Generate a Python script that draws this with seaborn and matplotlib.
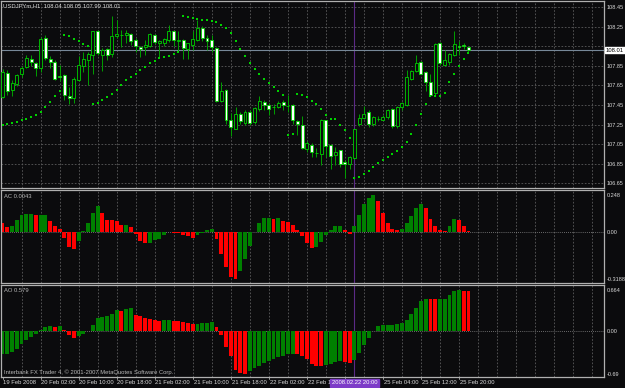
import numpy as np
import matplotlib
matplotlib.use("Agg")
import matplotlib.pyplot as plt
import seaborn as sns

# USDJPYm H1, first bar = 19 Feb 18:00
opens = [107.53, 107.78, 107.60, 107.66, 107.77, 107.84, 107.92, 107.88, 107.83, 108.13,
         107.92, 107.89, 107.75, 107.76, 107.54, 107.52, 107.71, 107.85, 107.91, 107.96,
         108.21, 107.96, 108.02, 107.97, 108.15, 108.16, 108.16, 108.17, 108.11, 108.04,
         108.04, 108.05, 108.16, 108.08, 108.08, 108.11, 108.20, 108.10, 108.11, 108.02,
         108.06, 108.11, 108.24, 108.13, 108.11, 108.03, 107.49, 107.60, 107.30, 107.21,
         107.36, 107.27, 107.38, 107.28, 107.41, 107.48, 107.45, 107.43, 107.43, 107.48,
         107.44, 107.45, 107.29, 107.25, 107.00, 107.04, 106.96, 106.95, 107.30, 107.04,
         106.94, 106.99, 106.87, 106.85, 106.91, 107.26, 107.32, 107.38, 107.26, 107.31,
         107.30, 107.33, 107.41, 107.24, 107.43, 107.45, 107.72, 107.80, 107.89, 107.79,
         107.68, 107.57, 108.08, 107.86, 107.89, 107.96, 108.05, 108.06, 108.04]
highs = [107.82, 107.81, 107.71, 107.77, 107.85, 107.96, 107.96, 107.89, 108.14, 108.16,
         107.95, 107.91, 107.86, 107.77, 107.63, 107.74, 107.95, 107.99, 107.99, 108.21,
         108.22, 108.03, 108.03, 108.36, 108.32, 108.22, 108.22, 108.18, 108.13, 108.05,
         108.11, 108.18, 108.17, 108.11, 108.13, 108.27, 108.21, 108.21, 108.12, 108.08,
         108.21, 108.32, 108.26, 108.16, 108.16, 108.04, 107.68, 107.61, 107.37, 107.43,
         107.38, 107.40, 107.40, 107.43, 107.54, 107.50, 107.47, 107.46, 107.49, 107.50,
         107.55, 107.46, 107.30, 107.34, 107.08, 107.06, 107.01, 107.31, 107.30, 107.05,
         107.02, 106.99, 106.89, 106.93, 107.20, 107.36, 107.44, 107.40, 107.34, 107.34,
         107.35, 107.41, 107.42, 107.44, 107.48, 107.81, 107.81, 107.96, 107.90, 107.80,
         107.77, 108.08, 108.09, 108.01, 107.98, 108.21, 108.10, 108.08, 108.05]
lows = [107.52, 107.55, 107.54, 107.64, 107.74, 107.83, 107.85, 107.75, 107.79, 107.91,
        107.83, 107.71, 107.69, 107.50, 107.46, 107.47, 107.69, 107.79, 107.65, 107.77,
        107.96, 107.80, 107.91, 107.94, 108.13, 108.04, 108.08, 108.06, 107.99, 107.94,
        107.96, 108.04, 108.07, 107.93, 108.05, 108.09, 108.05, 108.00, 107.92, 107.92,
        108.01, 108.10, 108.10, 108.01, 107.99, 107.48, 107.48, 107.26, 107.13, 107.20,
        107.26, 107.25, 107.25, 107.26, 107.39, 107.40, 107.35, 107.36, 107.42, 107.40,
        107.38, 107.26, 107.14, 107.00, 106.97, 106.92, 106.92, 106.84, 106.92, 106.80,
        106.84, 106.82, 106.70, 106.80, 106.90, 107.24, 107.31, 107.23, 107.24, 107.29,
        107.30, 107.31, 107.22, 107.22, 107.40, 107.44, 107.71, 107.79, 107.77, 107.59,
        107.54, 107.55, 107.86, 107.85, 107.86, 107.95, 107.96, 108.02, 107.99]
closes = [107.79, 107.59, 107.67, 107.76, 107.83, 107.93, 107.89, 107.83, 108.12, 107.93,
          107.89, 107.72, 107.74, 107.55, 107.52, 107.72, 107.86, 107.92, 107.97, 108.20,
          107.98, 108.01, 107.96, 108.15, 108.17, 108.16, 108.18, 108.10, 108.05, 108.02,
          108.06, 108.17, 108.09, 108.10, 108.12, 108.21, 108.11, 108.11, 108.03, 108.08,
          108.12, 108.24, 108.13, 108.10, 108.04, 107.49, 107.59, 107.30, 107.23, 107.36,
          107.29, 107.38, 107.27, 107.42, 107.49, 107.45, 107.41, 107.43, 107.47, 107.45,
          107.44, 107.30, 107.26, 107.01, 107.06, 106.97, 106.96, 107.30, 107.03, 106.93,
          106.97, 106.85, 106.85, 106.92, 107.20, 107.32, 107.36, 107.26, 107.33, 107.31,
          107.33, 107.40, 107.24, 107.43, 107.47, 107.74, 107.80, 107.88, 107.77, 107.68,
          107.55, 108.07, 107.88, 107.91, 107.97, 108.07, 108.04, 108.05, 108.01]
# Parabolic SAR
sar = [107.25, 107.26, 107.27, 107.28, 107.30, 107.31, 107.33, 107.35, 107.38, 107.43,
       107.48, 107.54, 107.59, 108.16, 108.15, 108.12, 108.10, 108.07, 108.05, 107.46,
       107.47, 107.50, 107.53, 107.56, 107.60, 107.65, 107.70, 107.74, 107.77, 107.81,
       107.84, 107.88, 107.90, 107.93, 107.94, 107.95, 107.97, 107.99, 108.36, 108.35,
       108.34, 108.33, 108.32, 108.32, 108.31, 108.30, 108.27, 108.24, 108.18, 108.10,
       108.02, 107.95, 107.88, 107.82, 107.77, 107.72, 107.67, 107.63, 107.59, 107.55,
       107.14, 107.15, 107.56, 107.55, 107.53, 107.49, 107.46, 107.41, 107.35, 107.31,
       107.31, 107.25, 107.19, 107.11, 106.71, 106.72, 106.75, 106.78, 106.82, 106.86,
       106.89, 106.92, 106.95, 106.98, 107.02, 107.07, 107.15, 107.25, 107.36, 107.46,
       107.54, 107.54, 107.54, 107.57, 107.68, 107.77, 107.85, 107.92, 107.98]
# Accelerator Oscillator
ac = [0.056, 0.031, 0.038, 0.081, 0.110, 0.119, 0.121, 0.110, 0.111, 0.113,
      0.072, 0.036, 0.016, -0.043, -0.104, -0.115, -0.065, 0.002, 0.061, 0.128,
      0.173, 0.128, 0.081, 0.079, 0.072, 0.043, 0.047, 0.031, -0.018, -0.065,
      -0.076, -0.074, -0.054, -0.047, -0.025, -0.003, -0.006, -0.011, -0.020, -0.031,
      -0.040, -0.025, -0.009, 0.011, 0.020, -0.052, -0.148, -0.238, -0.306, -0.3188,
      -0.268, -0.182, -0.097, 0.001, 0.061, 0.090, 0.093, 0.089, 0.090, 0.070,
      0.065, 0.043, 0.014, -0.030, -0.074, -0.110, -0.103, -0.070, -0.020, 0.009,
      0.038, 0.040, 0.014, -0.016, 0.038, 0.110, 0.189, 0.230, 0.248, 0.205,
      0.124, 0.059, 0.020, 0.014, 0.020, 0.061, 0.104, 0.160, 0.185, 0.160,
      0.088, 0.036, 0.014, 0.002, 0.038, 0.083, 0.077, 0.036, 0.0043]
# Awesome Oscillator
ao = [-0.373, -0.363, -0.336, -0.282, -0.201, -0.137, -0.094, -0.051, 0.018, 0.067,
      0.078, 0.075, 0.083, 0.024, -0.067, -0.105, -0.083, -0.040, -0.003, 0.094,
      0.212, 0.228, 0.239, 0.282, 0.336, 0.320, 0.352, 0.368, 0.266, 0.239,
      0.212, 0.191, 0.175, 0.158, 0.175, 0.185, 0.164, 0.158, 0.148, 0.132,
      0.120, 0.123, 0.125, 0.132, 0.142, 0.067, -0.067, -0.255, -0.406, -0.621,
      -0.675, -0.690, -0.642, -0.599, -0.556, -0.513, -0.481, -0.449, -0.416, -0.395,
      -0.373, -0.363, -0.370, -0.406, -0.443, -0.524, -0.562, -0.567, -0.551, -0.524,
      -0.497, -0.481, -0.497, -0.513, -0.459, -0.352, -0.218, -0.105, -0.003, 0.078,
      0.105, 0.106, 0.107, 0.121, 0.132, 0.185, 0.282, 0.373, 0.481, 0.524,
      0.523, 0.521, 0.522, 0.525, 0.578, 0.642, 0.664, 0.650, 0.645]

# labels every 8 bars; 22 Feb 18:00 sits under the marker box, 22 Feb 10 is cut by it
time_labels = ["19 Feb 2008", "20 Feb 02:00", "20 Feb 10:00", "20 Feb 18:00", "21 Feb 02:00",
               "21 Feb 10:00", "21 Feb 18:00", "22 Feb 02:00", "22 Feb 10", "",
               "25 Feb 04:00", "25 Feb 12:00", "25 Feb 20:00"]
price_ticks = [108.45, 108.25, 108.05, 107.85, 107.65, 107.45, 107.25, 107.05, 106.85, 106.65]
ac_ticks = [0.248, 0.0, -0.3188]
ac_tick_labels = ["0.248", "0.00", "-0.3188"]
ao_ticks = [0.664, 0.0, -0.69]
ao_tick_labels = ["0.664", "0.00", "-0.69"]
marker_bar = 74
marker_label = "2008.02.22 20:00"

bg = "#0b0b0d"
fg = "#d8d8d8"
grid_c = "#5c5c5c"
frame_c = "#b0b0b0"

sns.set_theme(style="dark", rc={"axes.facecolor": bg, "figure.facecolor": bg})
plt.rcParams["font.family"] = ["Liberation Sans", "DejaVu Sans"]

W, H = 625, 388
fig = plt.figure(figsize=(6.25, 3.88), dpi=100)


def box(x0, y0, x1, y1):
    return [x0 / W, 1 - y1 / H, (x1 - x0) / W, (y1 - y0) / H]


def px(x, y):
    return x / W, 1 - y / H


ax = fig.add_axes(box(1, 1, 604, 188))
ax_ac = fig.add_axes(box(1, 190, 604, 283))
ax_ao = fig.add_axes(box(1, 285, 604, 377))

n = len(closes)
idx = np.arange(n)

for a in (ax, ax_ac, ax_ao):
    a.set_facecolor(bg)
    a.set_xlim(-0.32, 126.5)
    a.set_xticks(np.arange(4, 127, 4))
    a.tick_params(axis="x", length=0, labelbottom=False)
    a.tick_params(axis="y", length=0, labelleft=False, labelright=True,
                  labelsize=4, labelcolor=fg, pad=2.2)
    a.grid(False)
    a.grid(axis="x", color=grid_c, linestyle=(0, (2, 2)), linewidth=0.6)
    for s in a.spines.values():
        s.set_color(frame_c)
        s.set_linewidth(0.9)
    a.axvline(marker_bar, color="#5b2a86", linewidth=0.8, zorder=1)

# main chart: candles + SAR
o = np.array(opens)
c = np.array(closes)
bull = c >= o
ax.vlines(idx, lows, highs, color="#00a000", linewidth=0.7, zorder=2)
ax.bar(idx, np.abs(c - o), bottom=np.minimum(o, c), width=0.62,
       color=np.where(bull, bg, "white"), edgecolor="#00d000", linewidth=0.6, zorder=3)
sns.scatterplot(x=idx, y=sar, marker="s", s=3, color="#00d000", linewidth=0, ax=ax, zorder=4)
ax.axhline(closes[-1], color="#778899", linewidth=0.8, zorder=1.5)
ax.set_ylim(106.603, 108.511)
ax.set_yticks(price_ticks)
# 108.05 is hidden behind the current-price box
ax.set_yticklabels(["" if abs(p - 108.05) < 1e-6 else f"{p:.2f}" for p in price_ticks])
ax.grid(axis="y", color=grid_c, linestyle=(0, (2, 2)), linewidth=0.6)
ax.set_xlabel("")
ax.set_ylabel("")

# AC
ac_arr = np.array(ac)
ac_up = np.r_[False, np.diff(ac_arr) > 0]
ax_ac.bar(idx, ac_arr, width=0.82, color=np.where(ac_up, "#008000", "#ff0000"), linewidth=0, zorder=2)
ax_ac.axhline(0, color="#8a8a8a", linestyle=(0, (1, 1.5)), linewidth=0.6, zorder=1)
ax_ac.set_ylim(-0.3458, 0.2817)
ax_ac.set_yticks(ac_ticks)
ax_ac.set_yticklabels(ac_tick_labels)

# AO
ao_arr = np.array(ao)
ao_up = np.r_[True, np.diff(ao_arr) > 0]
ax_ao.bar(idx, ao_arr, width=0.82, color=np.where(ao_up, "#008000", "#ff0000"), linewidth=0, zorder=2)
ax_ao.axhline(0, color="#8a8a8a", linestyle=(0, (1, 1.5)), linewidth=0.6, zorder=1)
ax_ao.set_ylim(-0.737, 0.745)
ax_ao.set_yticks(ao_ticks)
ax_ao.set_yticklabels(ao_tick_labels)

# texts
fs = 4.2
fig.text(*px(3, 6), "USDJPYm,H1  %.2f %.2f %.2f %.2f" % (opens[-1], highs[-1], lows[-1], closes[-1]),
         color=fg, fontsize=fs, va="center", ha="left")
fig.text(*px(4, 197), "AC %.4f" % ac[-1], color="#b8b8b8", fontsize=fs, va="center")
fig.text(*px(4, 291), "AO 0.579", color="#b8b8b8", fontsize=fs, va="center")
fig.text(*px(4, 372), "Interbank FX Trader 4, \u00a9 2001-2007 MetaQuotes Software Corp.",
         color="#b8b8b8", fontsize=fs, va="center")
fig.text(*px(606, 50), "%.2f" % closes[-1], color="black", fontsize=fs, va="center", ha="left",
         bbox=dict(boxstyle="square,pad=0.15", fc="white", ec="white"))

# time axis
for k, lab in enumerate(time_labels):
    i = 8 * k
    xp = 2.5 + 4.756 * i
    if lab:
        fig.text(*px(xp + 0.8, 383), lab, color=fg, fontsize=fs, va="center", ha="left")
    ax_ao.plot([i, i], [0, -0.025], transform=ax_ao.get_xaxis_transform(),
               color=frame_c, linewidth=0.6, clip_on=False)
xm = 2.5 + 4.756 * marker_bar
fig.text(*px(xm, 383), marker_label, color="white", fontsize=fs, va="center", ha="center",
         bbox=dict(boxstyle="square,pad=0.25", fc="#7d3cc8", ec="#7d3cc8"), zorder=5)

fig.savefig("out.png", dpi=100, facecolor=bg)
